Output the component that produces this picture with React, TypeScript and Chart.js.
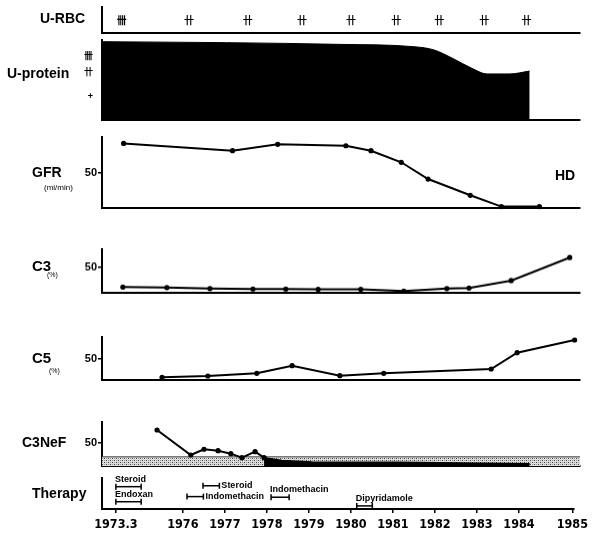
import React, { useEffect, useRef } from 'react';
import { Chart, registerables } from 'chart.js';

Chart.register(...registerables);

// ---------- data ----------
const tickYears = [1973.3, 1976, 1977, 1978, 1979, 1980, 1981, 1982, 1983, 1984, 1985];
const tickLabels = ['1973.3', '1976', '1977', '1978', '1979', '1980', '1981', '1982', '1983', '1984', '1985'];

const rbcYears = [1973.53, 1976.12, 1977.5, 1978.77, 1979.92, 1980.98, 1981.99, 1983.05, 1984.03];
const rbcGrades = ['卌', '卄', '卄', '卄', '卄', '卄', '卄', '卄', '卄'];

const proteinYears = [1972.74, 1977.0, 1979.66, 1981.42, 1981.87, 1982.31, 1982.76, 1983.11, 1983.65, 1984.09];
const proteinGrades = [3.23, 3.19, 3.12, 3.02, 2.89, 2.54, 2.13, 1.9, 1.9, 2.02];
const proteinTickValues = [1, 2, 2.67];
const proteinTickLabels = ['+', '卄', '卌'];

const gfrYears = [1973.6, 1977.14, 1978.2, 1979.8, 1980.39, 1981.1, 1981.73, 1982.72, 1983.45, 1984.27];
const gfrValues = [91, 80.7, 89.7, 87.7, 80.7, 64.4, 40.8, 17.9, 2, 2];

const c3Years = [1973.57, 1975.32, 1976.61, 1977.62, 1978.39, 1979.15, 1980.15, 1981.16, 1982.17, 1982.69, 1983.68, 1984.83];
const c3Values = [11.3, 10.2, 8.2, 7.4, 7.4, 6.8, 6.8, 3.5, 8.2, 9.4, 23.8, 68.8];

const c5Years = [1975.13, 1976.56, 1977.71, 1978.54, 1979.66, 1980.69, 1983.21, 1983.82, 1984.92];
const c5Values = [6.3, 9.3, 15.6, 33.3, 10, 15.6, 25.6, 63.5, 93];

const c3nefYears = [1974.93, 1976.16, 1976.47, 1976.8, 1977.1, 1977.36, 1977.67, 1977.88];
const c3nefValues = [78.6, 24, 36.5, 33.4, 26.9, 18.1, 31.2, 18.1];
const c3nefLateYears = [1977.88, 1978.3, 1979.0, 1980.0, 1981.0, 1982.0, 1983.0, 1984.09];
const c3nefLateValues = [18.1, 12, 9, 8, 8, 7, 6, 5];
const c3nefNormalRange = 20;

const therapyNames = ['Steroid', 'Endoxan', 'Steroid', 'Indomethacin', 'Indomethacin', 'Dipyridamole'];
const therapyStart = [1973.3, 1973.3, 1976.48, 1976.1, 1978.1, 1980.14];
const therapyEnd = [1974.32, 1974.32, 1976.87, 1976.49, 1978.53, 1980.51];
const therapyLevel = [7.2, 2.35, 7.5, 4.0, 3.8, 1.0];
const therapyLabelSide = ['above', 'above', 'right', 'right', 'above', 'above'];

// ---------- axis warp (the printed time axis is not uniform) ----------
const EARLY_COMPRESS = 0.59;
const LATE_STRETCH = 1.27;
const warp = (y: number) =>
  y >= 1984 ? 1984 + (y - 1984) * LATE_STRETCH : y >= 1976 ? y : 1976 - (1976 - y) * EARLY_COMPRESS;
const X_START = 1972.74;
const X_END = 1985.02;

const pts = (xs: number[], ys: number[]) => xs.map((x, i) => ({ x: warp(x), y: ys[i] }));

// ---------- styling ----------
const SANS = '"Liberation Sans", Arial, Helvetica, sans-serif';
const NARROW = '"Liberation Sans Narrow", "DejaVu Sans Condensed", "Liberation Sans", sans-serif';
const CJK = '"Noto Sans CJK JP", "Noto Sans CJK SC", sans-serif';
const PAD = 12;
const Y_AXIS_W = 102;
const RIGHT_PAD = 12;

Chart.defaults.color = '#000';
Chart.defaults.font.family = SANS;

function xScale(showLabels: boolean, bottomHeight = 0) {
  return {
    type: 'linear',
    min: warp(X_START),
    max: warp(X_END),
    afterBuildTicks: (s: any) => {
      s.ticks = tickYears.map((y) => ({ value: warp(y) }));
    },
    afterFit: (s: any) => {
      s.height = showLabels ? bottomHeight : 0;
    },
    grid: {
      display: showLabels,
      drawOnChartArea: false,
      drawTicks: showLabels,
      tickLength: 4,
      color: '#000',
      lineWidth: 1.5,
    },
    border: { display: true, color: '#000', width: 2 },
    ticks: {
      display: showLabels,
      autoSkip: false,
      maxRotation: 0,
      minRotation: 0,
      padding: 4,
      color: '#000',
      font: { family: NARROW, size: 12.5, weight: 'bold' },
      callback: (_v: any, i: number) => tickLabels[i],
    },
  };
}

function yScale(max: number, ticks: number[], labels: string[], opts: any = {}) {
  return {
    type: 'linear',
    min: 0,
    max,
    afterBuildTicks: (s: any) => {
      s.ticks = ticks.map((v) => ({ value: v }));
    },
    afterFit: (s: any) => {
      s.width = Y_AXIS_W;
    },
    grid: {
      display: ticks.length > 0 && !opts.noTickMarks,
      drawOnChartArea: false,
      tickLength: 4,
      color: '#000',
      lineWidth: 1.5,
    },
    border: { display: true, color: '#000', width: 2 },
    ticks: {
      display: ticks.length > 0,
      padding: opts.padding ?? 1,
      color: '#000',
      font: opts.font ?? { family: SANS, size: 11, weight: 'bold' },
      callback: (_v: any, i: number) => labels[i],
    },
  };
}

function lineDataset(data: any[], extra: any = {}) {
  return {
    data,
    showLine: true,
    borderColor: '#000',
    borderWidth: 2,
    pointRadius: 2.6,
    pointBackgroundColor: '#000',
    pointBorderColor: '#000',
    pointBorderWidth: 0,
    tension: 0,
    clip: false,
    ...extra,
  };
}

function baseConfig(datasets: any[], scales: any, plugins: any[] = [], bottomPad = PAD) {
  return {
    type: 'scatter',
    data: { datasets },
    options: {
      animation: false,
      responsive: false,
      events: [],
      layout: { padding: { top: PAD, bottom: bottomPad, left: 0, right: RIGHT_PAD } },
      plugins: { legend: { display: false }, tooltip: { enabled: false } },
      scales,
    },
    plugins,
  };
}

// ---------- plugins ----------
const rbcPlugin = {
  id: 'rbcMarks',
  afterDatasetsDraw(chart: any) {
    const { ctx, scales } = chart;
    ctx.save();
    ctx.font = `bold 10px ${CJK}`;
    ctx.fillStyle = '#000';
    ctx.textAlign = 'center';
    ctx.textBaseline = 'middle';
    rbcYears.forEach((yr, i) => {
      ctx.fillText(rbcGrades[i], scales.x.getPixelForValue(warp(yr)), scales.y.getPixelForValue(0.5));
    });
    ctx.restore();
  },
};

const therapyPlugin = {
  id: 'therapyLabels',
  afterDatasetsDraw(chart: any) {
    const { ctx, scales } = chart;
    ctx.save();
    ctx.font = `bold 9px ${SANS}`;
    ctx.fillStyle = '#000';
    ctx.textBaseline = 'middle';
    ctx.textAlign = 'left';
    therapyNames.forEach((name, i) => {
      const x0 = scales.x.getPixelForValue(warp(therapyStart[i]));
      const x1 = scales.x.getPixelForValue(warp(therapyEnd[i]));
      const yy = scales.y.getPixelForValue(therapyLevel[i]);
      if (therapyLabelSide[i] === 'right') ctx.fillText(name, x1 + 2, yy);
      else ctx.fillText(name, x0 - 1, yy - 7.5);
    });
    ctx.restore();
  },
};

function stipple(): CanvasPattern | string {
  const c = document.createElement('canvas');
  c.width = 4;
  c.height = 4;
  const g = c.getContext('2d');
  if (!g) return '#ccc';
  g.fillStyle = '#dcdcdc';
  g.fillRect(0, 0, 4, 4);
  g.fillStyle = '#444';
  g.fillRect(0, 0, 1, 1);
  g.fillRect(2, 2, 1, 1);
  g.fillStyle = '#999';
  g.fillRect(2, 0, 1, 1);
  g.fillRect(0, 2, 1, 1);
  const p = g.createPattern(c, 'repeat');
  return p || '#ccc';
}

// ---------- panels ----------
type PanelProps = { top: number; bottom: number; last?: boolean; build: () => any };

function Panel({ top, bottom, last, build }: PanelProps) {
  const ref = useRef<HTMLCanvasElement>(null);
  const canvasTop = top - PAD;
  const height = last ? 536 - canvasTop : bottom - top + 2 * PAD;
  useEffect(() => {
    if (!ref.current) return;
    const chart = new Chart(ref.current, build());
    return () => chart.destroy();
  }, []);
  return (
    <canvas
      ref={ref}
      width={592}
      height={height}
      style={{ position: 'absolute', left: 0, top: canvasTop, width: 592, height }}
    />
  );
}

function Label({ x, y, text, size = 14, bold = true, center = false }: any) {
  return (
    <div
      style={{
        position: 'absolute',
        left: x,
        top: y,
        transform: center ? 'translate(-50%, -50%)' : 'translateY(-50%)',
        font: `${bold ? 'bold ' : ''}${size}px ${SANS}`,
        lineHeight: 1,
        whiteSpace: 'nowrap',
        color: '#000',
      }}
    >
      {text}
    </div>
  );
}

export default function App() {
  useEffect(() => {
    document.body.style.margin = '0';
  }, []);
  return (
    <div style={{ position: 'fixed', left: 0, top: 0, width: 592, height: 536, background: '#fff', overflow: 'hidden' }}>
      {/* U-RBC */}
      <Panel
        top={7}
        bottom={33}
        build={() => baseConfig([], { x: xScale(false), y: yScale(1, [], []) }, [rbcPlugin])}
      />
      {/* U-protein */}
      <Panel
        top={40}
        bottom={120}
        build={() =>
          baseConfig(
            [
              lineDataset(pts(proteinYears, proteinGrades), {
                pointRadius: 0,
                borderWidth: 1,
                fill: 'origin',
                backgroundColor: '#000',
                cubicInterpolationMode: 'monotone',
              }),
            ],
            {
              x: xScale(false),
              y: yScale(3.3, proteinTickValues, proteinTickLabels, {
                noTickMarks: true,
                padding: 5,
                font: { family: CJK, size: 9, weight: 'bold' },
              }),
            }
          )
        }
      />
      {/* GFR */}
      <Panel
        top={137}
        bottom={208}
        build={() =>
          baseConfig([lineDataset(pts(gfrYears, gfrValues))], { x: xScale(false), y: yScale(100, [50], ['50']) })
        }
      />
      {/* C3 */}
      <Panel
        top={249}
        bottom={292.5}
        build={() =>
          baseConfig([lineDataset(pts(c3Years, c3Values))], { x: xScale(false), y: yScale(85, [50], ['50']) })
        }
      />
      {/* C5 */}
      <Panel
        top={337}
        bottom={380}
        build={() =>
          baseConfig([lineDataset(pts(c5Years, c5Values))], { x: xScale(false), y: yScale(100, [50], ['50']) })
        }
      />
      {/* C3NeF */}
      <Panel
        top={422}
        bottom={466}
        build={() =>
          baseConfig(
            [
              lineDataset(pts(c3nefYears, c3nefValues)),
              lineDataset(pts(c3nefLateYears, c3nefLateValues), {
                pointRadius: 0,
                borderWidth: 1.5,
                fill: 'origin',
                backgroundColor: '#000',
              }),
              lineDataset(pts([X_START, X_END], [c3nefNormalRange, c3nefNormalRange]), {
                pointRadius: 0,
                borderWidth: 1,
                borderColor: '#444',
                fill: 'origin',
                backgroundColor: stipple(),
                order: 5,
              }),
            ],
            { x: xScale(false), y: yScale(96, [50], ['50']) }
          )
        }
      />
      {/* Therapy */}
      <Panel
        top={478}
        bottom={509}
        last
        build={() =>
          baseConfig(
            therapyNames.map((_n, i) =>
              lineDataset(pts([therapyStart[i], therapyEnd[i]], [therapyLevel[i], therapyLevel[i]]), {
                borderWidth: 1.5,
                pointStyle: 'line',
                rotation: 90,
                pointRadius: 3,
                pointBorderWidth: 1.5,
              })
            ),
            { x: xScale(true, 27), y: yScale(10, [], []) },
            [therapyPlugin],
            0
          )
        }
      />

      <Label x={40} y={18} text="U-RBC" />
      <Label x={7} y={73} text="U-protein" />
      <Label x={32} y={172} text="GFR" />
      <Label x={44} y={188} text="(ml/min)" size={8} bold={false} />
      <Label x={565} y={175} text="HD" center />
      <Label x={32} y={265} text="C3" size={15} />
      <Label x={47} y={274} text="(%)" size={7} bold={false} />
      <Label x={32} y={357} text="C5" size={15} />
      <Label x={49} y={370} text="(%)" size={7} bold={false} />
      <Label x={22} y={442} text="C3NeF" />
      <Label x={32} y={493} text="Therapy" />
    </div>
  );
}
